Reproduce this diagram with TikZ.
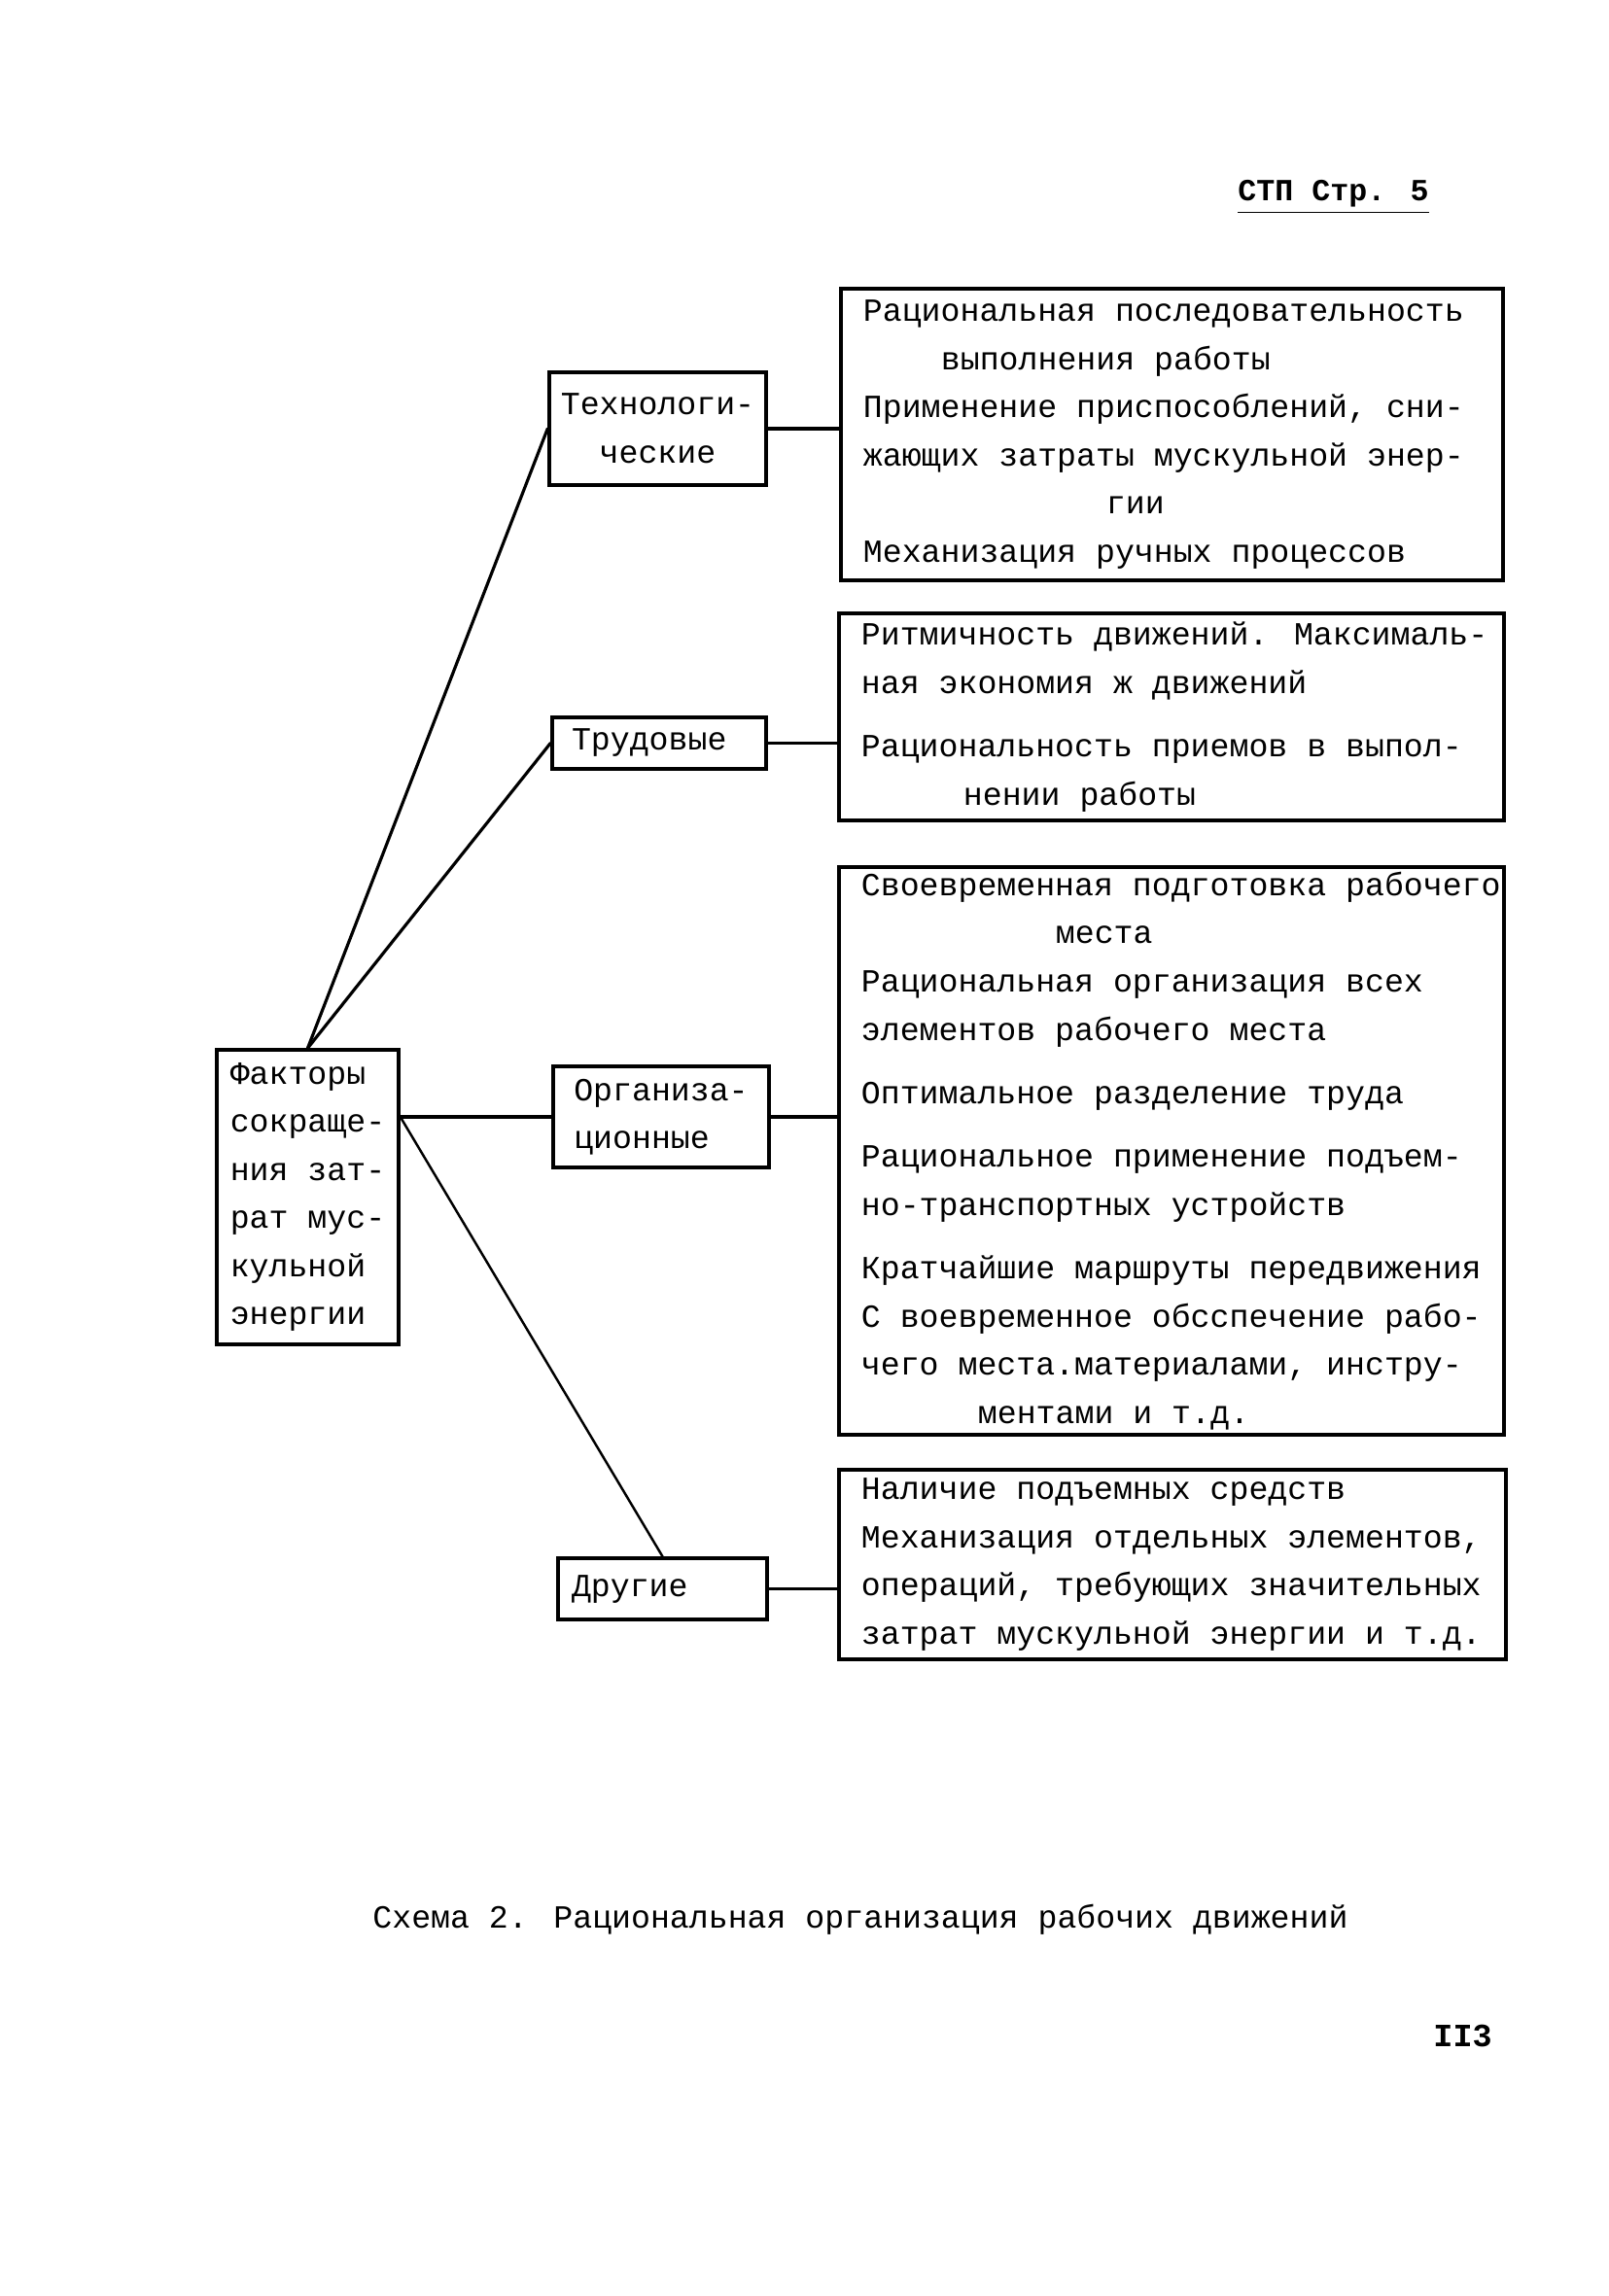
\documentclass[tikz,border=0pt]{standalone}
\usepackage{fontspec}
\setmainfont{Liberation Mono}
\usetikzlibrary{positioning}

\begin{document}
\begin{tikzpicture}[
  line cap=round,
  tw/.style={font=\fontsize{9.45}{14.1}\selectfont},
  sbox/.style={draw, line width=1pt, tw, inner sep=0pt},
  bbox/.style={draw, line width=1pt, inner sep=0pt},
  btext/.style={tw, align=left, inner sep=0pt, anchor=west},
  link/.style={line width=0.9pt}
]
\fill[white] (0,0) rectangle (16.54,-23.62);
\useasboundingbox (0,0) rectangle (16.54,-23.62);
% шапка страницы
\node[font=\fontsize{9}{11}\selectfont\bfseries] (hdr) at (13.715,-2.03) {\underline{СТП Стр. 5}};
% группы факторов
\node[sbox, minimum width=2.23cm, minimum height=1.16cm, align=center] (tech) at (6.765,-4.41) {Технологи-\\ческие};
\node[sbox, minimum width=2.20cm, minimum height=0.53cm, text width=1.8cm, inner xsep=0.2cm, align=left] (lab) at (6.78,-7.645) {Трудовые};
\node[sbox, minimum width=2.22cm, minimum height=1.04cm, align=left] (org) at (6.80,-11.49) {Организа-\\ционные};
\node[sbox, minimum width=2.15cm, minimum height=0.63cm, text width=1.87cm, inner xsep=0.14cm, align=left] (oth) at (6.815,-16.345) {Другие};
\node[sbox, minimum width=1.87cm, minimum height=3.03cm, align=left] (fact) at (3.165,-12.315) {Факторы\\сокраще-\\ния зат-\\рат мус-\\кульной\\энергии};
% технологические
\node[bbox, minimum width=6.81cm, minimum height=3.00cm] (tb) at (12.055,-4.47) {};
\node[btext, right=0.24cm of tb.west] (tbt) {Рациональная последовательность\\
\hspace*{0.8cm}выполнения работы\\
Применение приспособлений, сни-\\
жающих затраты мускульной энер-\\
\hspace*{2.5cm}гии\\
Механизация ручных процессов};
% трудовые
\node[bbox, minimum width=6.84cm, minimum height=2.13cm] (lb) at (12.05,-7.375) {};
\node[btext, right=0.24cm of lb.west] (lbt) {Ритмичность движений. Максималь-\\
ная экономия ж движений\\[4.5pt]
Рациональность приемов в выпол-\\
\hspace*{1.05cm}нении работы};
% организационные
\node[bbox, minimum width=6.84cm, minimum height=5.84cm] (ob) at (12.05,-11.84) {};
\node[btext, right=0.24cm of ob.west] (obt) {Своевременная подготовка рабочего\\
\hspace*{2.0cm}места\\
Рациональная организация всех\\
элементов рабочего места\\[4.5pt]
Оптимальное разделение труда\\[4.5pt]
Рациональное применение подъем-\\
но-транспортных устройств\\[4.5pt]
Кратчайшие маршруты передвижения\\
С воевременное обсспечение рабо-\\
чего места.материалами, инстру-\\
\hspace*{1.2cm}ментами и т.д.};
% другие
\node[bbox, minimum width=6.86cm, minimum height=1.95cm] (xb) at (12.06,-16.095) {};
\node[btext, right=0.24cm of xb.west] (xbt) {Наличие подъемных средств\\
Механизация отдельных элементов,\\
операций, требующих значительных\\
затрат мускульной энергии и т.д.};
% связи
\draw[link] (tech.east) -- (tech.east -| tb.west);
\draw[link] (lab.east) -- (lab.east -| lb.west);
\draw[link] (org.east) -- (org.east -| ob.west);
\draw[link] (oth.east) -- (oth.east -| xb.west);
\draw[link] (fact.north) -- (tech.west);
\draw[link] (fact.north) -- (lab.west);
\coordinate (fo) at (fact.east |- org.west);
\draw[link] (fo) -- (org.west);
\draw[line width=0.7pt] (fo) -- (oth.north);
% подпись
\node[tw] (cap) at (8.85,-19.75) {Схема 2. Рациональная организация рабочих движений};
\node[font=\fontsize{9.5}{11}\selectfont\bfseries, anchor=east] (pg) at (15.47,-20.94) {II3};
\end{tikzpicture}
\end{document}
